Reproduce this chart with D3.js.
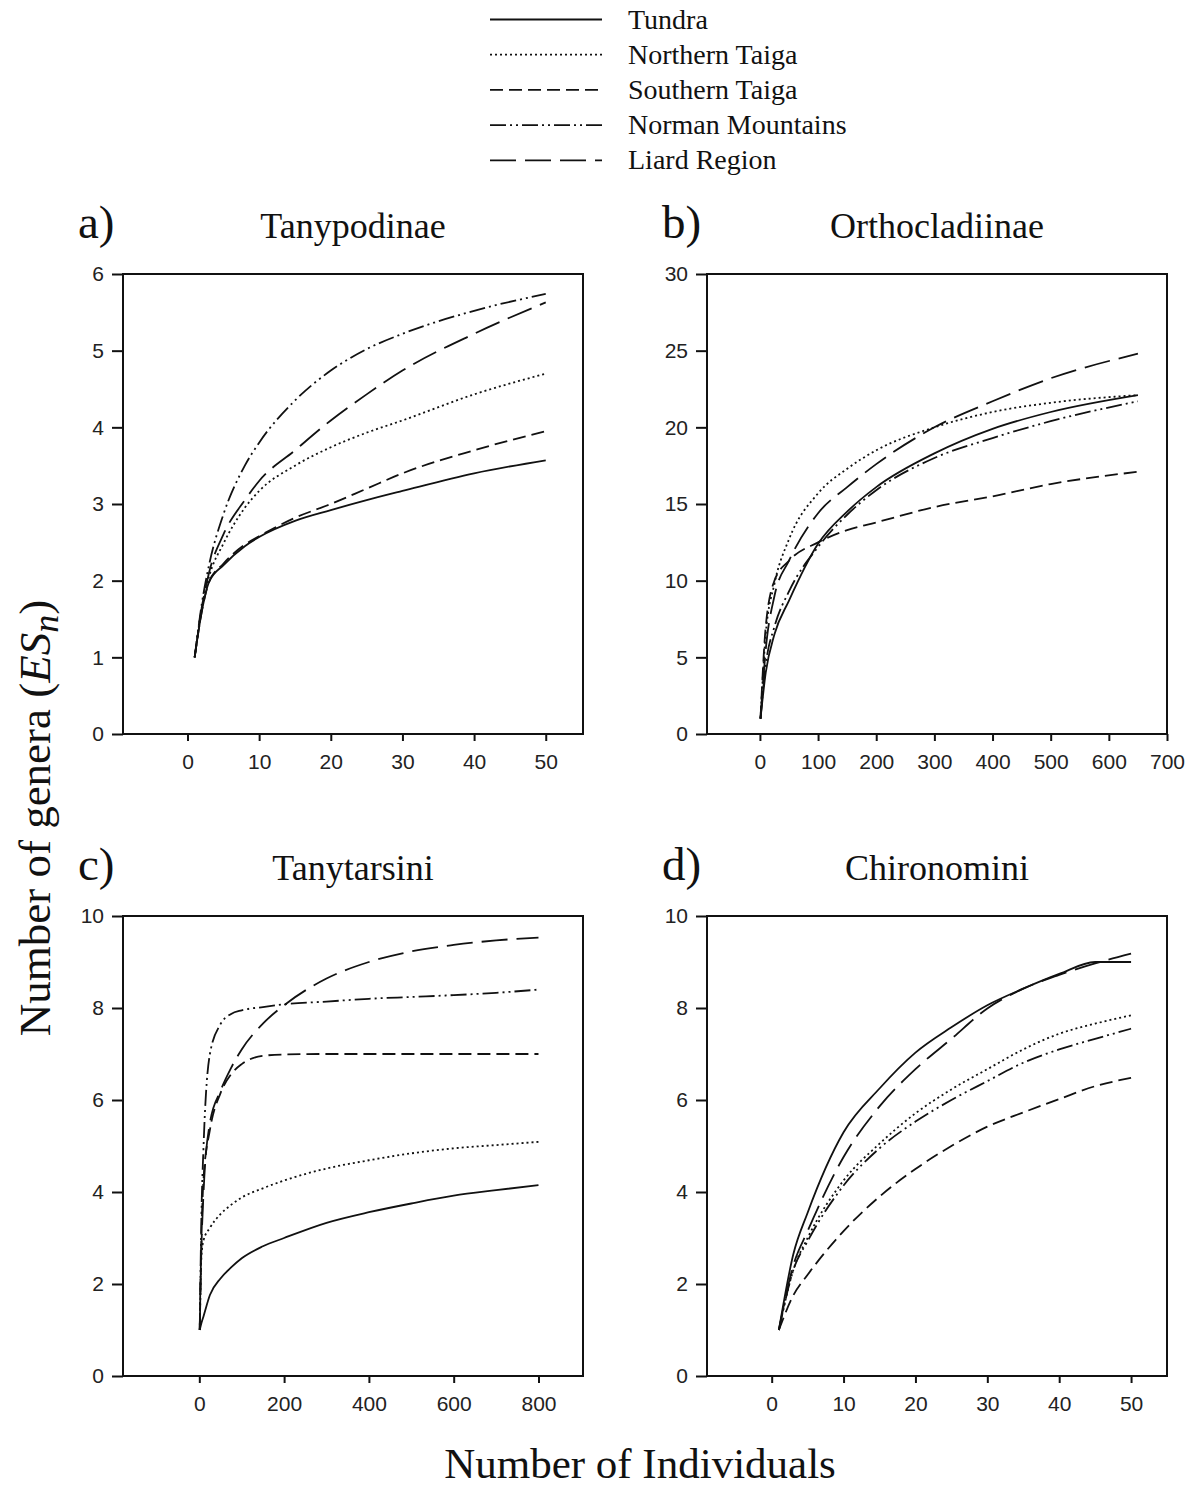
<!DOCTYPE html>
<html>
<head>
<meta charset="utf-8">
<script src="https://cdn.jsdelivr.net/npm/d3@7"></script>
<style>
  body { margin: 0; background: #fff; }
  svg { display: block; }
</style>
</head>
<body>
<div id="chart"></div>
<script>
// series order used in every panel
var seriesNames = ['Tundra', 'Northern Taiga', 'Southern Taiga', 'Norman Mountains', 'Liard Region'];
var dashStyles = ['none', '2,3', '13,6', '16,4,2,4,2,4', '26,9'];

// a) Tanypodinae
var tanypodinaeN = [1, 2, 3, 5, 8, 10, 15, 20, 25, 30, 40, 50];
var tanypodinaeES = [
  [1, 1.6, 1.98, 2.2, 2.45, 2.57, 2.78, 2.92, 3.05, 3.17, 3.40, 3.57],
  [1, 1.65, 2.05, 2.48, 2.95, 3.17, 3.50, 3.74, 3.93, 4.09, 4.43, 4.70],
  [1, 1.6, 1.98, 2.22, 2.47, 2.58, 2.82, 3.0, 3.2, 3.40, 3.70, 3.95],
  [1, 1.7, 2.2, 2.86, 3.50, 3.80, 4.35, 4.74, 5.02, 5.22, 5.52, 5.74],
  [1, 1.65, 2.1, 2.6, 3.05, 3.30, 3.70, 4.09, 4.43, 4.74, 5.22, 5.63]
];

// b) Orthocladiinae
var orthocladiinaeN = [1, 10, 25, 50, 100, 150, 200, 300, 400, 500, 650];
var orthocladiinaeES = [
  [1, 4.0, 6.5, 8.7, 12.4, 14.5, 16.1, 18.3, 19.9, 21.0, 22.1],
  [1, 6.5, 9.8, 12.7, 15.7, 17.3, 18.5, 20.0, 21.0, 21.6, 22.1],
  [1, 7.0, 10.0, 11.3, 12.5, 13.3, 13.8, 14.8, 15.5, 16.3, 17.1],
  [1, 4.5, 7.0, 9.3, 12.2, 14.3, 15.9, 18.0, 19.3, 20.4, 21.7],
  [1, 5.5, 9.0, 11.3, 14.4, 16.1, 17.6, 20.0, 21.7, 23.2, 24.8]
];

// c) Tanytarsini
var tanytarsiniN = [1, 5, 10, 25, 50, 75, 100, 150, 200, 300, 400, 500, 600, 700, 800];
var tanytarsiniES = [
  [1, 1.15, 1.3, 1.76, 2.12, 2.36, 2.56, 2.82, 3.0, 3.33, 3.56, 3.75, 3.92, 4.04, 4.15],
  [1, 2.6, 2.95, 3.22, 3.52, 3.72, 3.88, 4.08, 4.25, 4.51, 4.69, 4.84, 4.95, 5.02, 5.09],
  [1, 3.0, 4.3, 5.35, 6.15, 6.56, 6.78, 6.96, 6.99, 7.0, 7.0, 7.0, 7.0, 7.0, 7.0],
  [1, 3.5, 5.0, 7.0, 7.65, 7.87, 7.95, 8.02, 8.08, 8.14, 8.2, 8.24, 8.28, 8.33, 8.4],
  [1, 2.8, 4.0, 5.5, 6.2, 6.7, 7.1, 7.66, 8.06, 8.64, 9.0, 9.23, 9.37, 9.47, 9.53]
];

// d) Chironomini
var chironominiN = [1, 3, 5, 10, 15, 20, 25, 30, 35, 40, 45, 50];
var chironominiES = [
  [1, 2.64, 3.55, 5.3, 6.25, 7.03, 7.58, 8.06, 8.42, 8.74, 9.0, 9.0],
  [1, 2.3, 3.0, 4.25, 5.05, 5.71, 6.23, 6.67, 7.1, 7.44, 7.66, 7.84],
  [1, 1.75, 2.2, 3.15, 3.9, 4.5, 5.0, 5.42, 5.73, 6.02, 6.3, 6.48],
  [1, 2.3, 2.93, 4.14, 4.95, 5.53, 6.0, 6.41, 6.81, 7.1, 7.33, 7.55],
  [1, 2.4, 3.15, 4.76, 5.86, 6.67, 7.33, 7.99, 8.42, 8.72, 8.97, 9.18]
];

var panels = [
  {tag: 'a)', title: 'Tanypodinae', n: tanypodinaeN, es: tanypodinaeES,
   left: 123, top: 274, xDom: [-9, 55.2], yDom: [0, 6], xTicks: d3.range(0, 51, 10), yTicks: d3.range(0, 7, 1)},
  {tag: 'b)', title: 'Orthocladiinae', n: orthocladiinaeN, es: orthocladiinaeES,
   left: 707, top: 274, xDom: [-91, 700], yDom: [0, 30], xTicks: d3.range(0, 701, 100), yTicks: d3.range(0, 31, 5)},
  {tag: 'c)', title: 'Tanytarsini', n: tanytarsiniN, es: tanytarsiniES,
   left: 123, top: 916, xDom: [-180, 905], yDom: [0, 10], xTicks: d3.range(0, 801, 200), yTicks: d3.range(0, 11, 2)},
  {tag: 'd)', title: 'Chironomini', n: chironominiN, es: chironominiES,
   left: 707, top: 916, xDom: [-9, 55], yDom: [0, 10], xTicks: d3.range(0, 51, 10), yTicks: d3.range(0, 11, 2)}
];

var W = 1196, H = 1489;
var pw = 460, ph = 460;
var serif = 'Liberation Serif, Times New Roman, serif';
var sans = 'Liberation Sans, Arial, sans-serif';

var svg = d3.select('#chart').append('svg')
  .attr('width', W)
  .attr('height', H);

svg.append('rect')
  .attr('width', W)
  .attr('height', H)
  .attr('fill', 'white');

// legend
var legend = svg.append('g').attr('class', 'legend');
seriesNames.forEach(function(name, i) {
  var y = 19.5 + i * 35.2;
  legend.append('line')
    .attr('x1', 490).attr('x2', 602)
    .attr('y1', y).attr('y2', y)
    .attr('stroke', '#111')
    .attr('stroke-width', 1.8)
    .attr('stroke-dasharray', dashStyles[i]);
  legend.append('text')
    .attr('x', 628)
    .attr('y', y + 9)
    .attr('font-family', serif)
    .attr('font-size', 28)
    .attr('fill', '#111')
    .text(name);
});

panels.forEach(function(p) {
  var g = svg.append('g').attr('transform', 'translate(' + p.left + ',' + p.top + ')');
  var x = d3.scaleLinear().domain(p.xDom).range([0, pw]);
  var y = d3.scaleLinear().domain(p.yDom).range([ph, 0]);

  var yAxis = g.append('g')
    .call(d3.axisLeft(y).tickValues(p.yTicks).tickFormat(d3.format('d')).tickSize(11).tickPadding(8));
  var xAxis = g.append('g')
    .attr('transform', 'translate(0,' + ph + ')')
    .call(d3.axisBottom(x).tickValues(p.xTicks).tickFormat(d3.format('d')).tickSize(7).tickPadding(13));

  [xAxis, yAxis].forEach(function(ax) {
    ax.select('.domain').remove();
    ax.selectAll('line').attr('stroke', '#111').attr('stroke-width', 2);
    ax.selectAll('text')
      .attr('font-family', sans)
      .attr('font-size', 21)
      .attr('fill', '#222');
  });

  g.append('rect')
    .attr('width', pw)
    .attr('height', ph)
    .attr('fill', 'none')
    .attr('stroke', '#111')
    .attr('stroke-width', 2);

  var line = d3.line()
    .x(function(d) { return x(d[0]); })
    .y(function(d) { return y(d[1]); })
    .curve(d3.curveMonotoneX);

  p.es.forEach(function(vals, i) {
    var pts = p.n.map(function(n, j) { return [n, vals[j]]; });
    g.append('path')
      .datum(pts)
      .attr('d', line)
      .attr('fill', 'none')
      .attr('stroke', '#111')
      .attr('stroke-width', 1.8)
      .attr('stroke-dasharray', dashStyles[i]);
  });

  g.append('text')
    .attr('x', -45)
    .attr('y', -36)
    .attr('font-family', serif)
    .attr('font-size', 47)
    .attr('fill', '#111')
    .text(p.tag);

  g.append('text')
    .attr('x', pw / 2)
    .attr('y', -36)
    .attr('text-anchor', 'middle')
    .attr('font-family', serif)
    .attr('font-size', 36)
    .attr('fill', '#111')
    .text(p.title);
});

// axis titles
var ylab = svg.append('text')
  .attr('transform', 'translate(50,818) rotate(-90)')
  .attr('text-anchor', 'middle')
  .attr('font-family', serif)
  .attr('font-size', 45)
  .attr('fill', '#111');
ylab.append('tspan').text('Number of genera (');
ylab.append('tspan').attr('font-style', 'italic').text('ES');
ylab.append('tspan').attr('font-style', 'italic').attr('font-size', 36).attr('dy', 8).text('n');
ylab.append('tspan').attr('dy', -8).text(')');

svg.append('text')
  .attr('x', 640)
  .attr('y', 1478)
  .attr('text-anchor', 'middle')
  .attr('font-family', serif)
  .attr('font-size', 43)
  .attr('fill', '#111')
  .text('Number of Individuals');
</script>
</body>
</html>
